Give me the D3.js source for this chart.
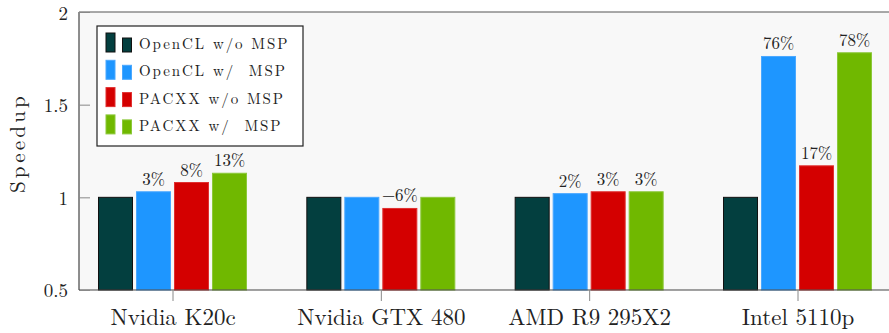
<!DOCTYPE html>
<html><head><meta charset="utf-8">
<script src="https://cdn.jsdelivr.net/npm/d3@7"></script>
<style>body{margin:0;background:#fff}svg{display:block}</style>
</head><body>
<svg id="c" width="889" height="333"></svg>
<script>
const categories = ["Nvidia K20c", "Nvidia GTX 480", "AMD R9 295X2", "Intel 5110p"];
const seriesNames = ["OpenCL w/o MSP", "OpenCL w/  MSP", "PACXX w/o MSP", "PACXX w/  MSP"];
const seriesColors = ["#033f3f", "#1e96ff", "#d40000", "#70b800"];
const seriesStrokes = ["#111", "#4aa8ff", "#e03030", "#8cc83a"];
const openclNoMsp = [1.0, 1.0, 1.0, 1.0];
const openclMsp = [1.03, 1.0, 1.02, 1.76];
const pacxxNoMsp = [1.08, 0.94, 1.03, 1.17];
const pacxxMsp = [1.13, 1.0, 1.03, 1.78];
const openclMspLabels = ["3%", "", "2%", "76%"];
const pacxxNoMspLabels = ["8%", "\u22126%", "3%", "17%"];
const pacxxMspLabels = ["13%", "", "3%", "78%"];
const yTicks = [0.5, 1, 1.5, 2];
const yTickLabels = ["0.5", "1", "1.5", "2"];

const series = [openclNoMsp, openclMsp, pacxxNoMsp, pacxxMsp];
const labels = [null, openclMspLabels, pacxxNoMspLabels, pacxxMspLabels];

const svg = d3.select("#c");
const L = 79, R = 889, T = 12, B = 290;
const font = "'Latin Modern Roman','DejaVu Serif',serif";

svg.append("rect").attr("x", L).attr("y", T).attr("width", R - L).attr("height", B - T).attr("fill", "#f8f8f8");

const y = d3.scaleLinear().domain([0.5, 2]).range([B, T]);
const x = d3.scalePoint().domain(categories).range([172.5, 797.5]);
const xi = d3.scaleBand().domain(d3.range(4)).range([-76, 76]).paddingInner(0.105).paddingOuter(0.0526);

// bars
series.forEach((vals, s) => {
  const g = svg.append("g");
  g.selectAll("rect").data(vals).join("rect")
    .attr("x", (d, i) => x(categories[i]) + xi(s))
    .attr("y", d => y(d))
    .attr("width", xi.bandwidth())
    .attr("height", d => B - y(d))
    .attr("fill", seriesColors[s])
    .attr("stroke", seriesStrokes[s])
    .attr("stroke-width", 1);
  if (labels[s]) {
    g.selectAll("text").data(vals).join("text")
      .attr("x", (d, i) => x(categories[i]) + xi(s) + xi.bandwidth() / 2)
      .attr("y", d => y(d) - 7)
      .attr("text-anchor", "middle")
      .attr("font-family", font).attr("font-size", 17).attr("fill", "#222")
      .text((d, i) => labels[s][i]);
  }
});

// axes lines
svg.append("line").attr("x1", L).attr("x2", R).attr("y1", T).attr("y2", T).attr("stroke", "#555").attr("stroke-width", 1.2);
svg.append("line").attr("x1", L).attr("x2", R).attr("y1", B).attr("y2", B).attr("stroke", "#444").attr("stroke-width", 1.2);
svg.append("line").attr("x1", L).attr("x2", L).attr("y1", T).attr("y2", B).attr("stroke", "#444").attr("stroke-width", 1.2);

// y axis
const yAxis = d3.axisLeft(y).tickValues(yTicks).tickFormat((d, i) => yTickLabels[i]).tickSize(-11).tickPadding(11);
const gy = svg.append("g").attr("transform", `translate(${L},0)`).call(yAxis);
gy.select(".domain").remove();
gy.selectAll(".tick line").attr("stroke", "#888");
gy.selectAll(".tick text").attr("x", -11).attr("dy", (d) => d === 2 ? "0.42em" : "0.36em").attr("font-family", font).attr("font-size", 19).attr("fill", "#222");

// x axis
const xAxis = d3.axisBottom(x).tickSize(11).tickPadding(8);
const gx = svg.append("g").attr("transform", `translate(0,${B})`).call(xAxis);
gx.select(".domain").remove();
gx.selectAll(".tick line").attr("stroke", "#888");
gx.selectAll(".tick text").attr("y", 35).attr("dy", 0).attr("font-family", font).attr("font-size", 23).attr("fill", "#222");

// y label
svg.append("text").attr("transform", "translate(24.5,143) rotate(-90)")
  .attr("text-anchor", "middle").attr("font-family", font).attr("font-size", 21).attr("letter-spacing", 3.2)
  .attr("fill", "#222").text("Speedup");

// legend
const lg = svg.append("g");
lg.append("rect").attr("x", 97).attr("y", 26).attr("width", 206).attr("height", 120).attr("fill", "#fff").attr("stroke", "#222").attr("stroke-width", 1.2);
seriesNames.forEach((n, s) => {
  const cy = 44 + s * 27.3;
  lg.append("rect").attr("x", 106).attr("y", cy - 11).attr("width", 9).attr("height", 19)
    .attr("fill", seriesColors[s]).attr("stroke", seriesStrokes[s]).attr("stroke-width", 1);
  lg.append("rect").attr("x", 122.5).attr("y", cy - 6).attr("width", 9).attr("height", 14)
    .attr("fill", seriesColors[s]).attr("stroke", seriesStrokes[s]).attr("stroke-width", 1);
  lg.append("text").attr("x", 139).attr("y", cy + 5).attr("font-family", font).attr("font-size", 15)
    .attr("letter-spacing", 1.9).attr("fill", "#222").attr("xml:space", "preserve").style("white-space", "pre").text(n);
});
</script>
</body></html>
